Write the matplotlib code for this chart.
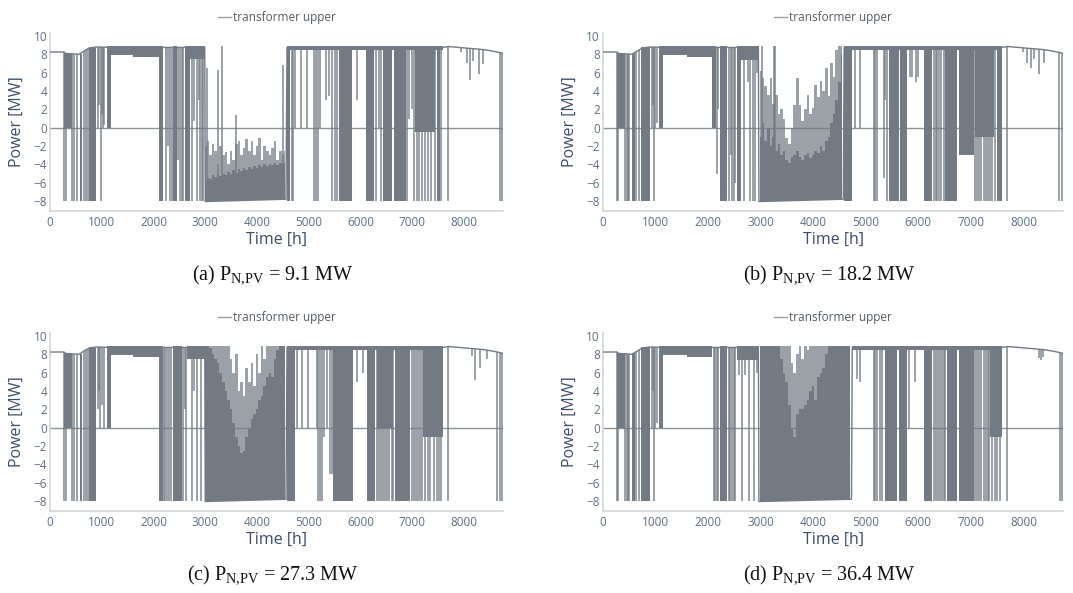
import numpy as np
import matplotlib.pyplot as plt
from matplotlib.lines import Line2D

plt.rcParams['font.family'] = ['Open Sans', 'DejaVu Sans']
plt.rcParams['mathtext.fontset'] = 'custom'
plt.rcParams['mathtext.rm'] = 'Liberation Serif'

TRACE = '#737a83'
TICK_COLOR = '#5f6f86'
TITLE_COLOR = '#3d4c68'

x_ticks = [0, 1000, 2000, 3000, 4000, 5000, 6000, 7000, 8000]
y_ticks = [-8, -6, -4, -2, 0, 2, 4, 6, 8, 10]
captions = ['(a) P$_{\\mathrm{N{,}PV}}$ = 9.1 MW', '(b) P$_{\\mathrm{N{,}PV}}$ = 18.2 MW',
            '(c) P$_{\\mathrm{N{,}PV}}$ = 27.3 MW', '(d) P$_{\\mathrm{N{,}PV}}$ = 36.4 MW']

# resting level of the transformer trace (hour, MW)
rest_a_h = [0, 270, 300, 560, 640, 700, 760, 900, 1160, 2990, 3000, 4560, 4580, 7600, 7700, 8000, 8400, 8600, 8760]
rest_a_v = [8.25, 8.25, 8.1, 8.0, 8.3, 8.5, 8.7, 8.8, 8.75, 8.75, -8.05, -7.8, 8.75, 8.75, 8.85, 8.7, 8.5, 8.3, 8.1]
rest_b_h = [0, 270, 300, 560, 640, 700, 760, 900, 1150, 2960, 2970, 4575, 4590, 7600, 7700, 8000, 8400, 8600, 8760]
rest_b_v = [8.25, 8.25, 8.1, 8.0, 8.3, 8.5, 8.7, 8.8, 8.75, 8.75, -8.05, -7.8, 8.75, 8.75, 8.85, 8.7, 8.5, 8.3, 8.1]
rest_c_h = rest_a_h
rest_c_v = rest_a_v
rest_d_h = [0, 270, 300, 560, 640, 700, 760, 900, 1150, 2960, 2970, 4730, 4745, 7600, 7700, 8000, 8400, 8600, 8760]
rest_d_v = [8.25, 8.25, 8.1, 8.0, 8.3, 8.5, 8.7, 8.8, 8.75, 8.75, -8.05, -7.8, 8.75, 8.75, 8.85, 8.7, 8.5, 8.3, 8.1]

# periods of dense switching: (start h, end h, low MW, high MW)
blocks_a = [(270, 420, 0.0, 8.1), (575, 615, -8.0, 8.0), (760, 885, -8.0, 8.7), (1110, 1170, 0.0, 8.9),
            (1170, 1600, 7.95, 8.9), (1600, 2100, 7.75, 8.9), (2100, 2190, -8.0, 8.9), (2380, 2445, -8.0, 8.9),
            (2600, 2700, -8.0, 8.9), (2700, 2995, 7.5, 8.9), (4573, 4640, -8.0, 8.9), (5580, 5830, -8.0, 8.9),
            (6115, 6270, -8.0, 8.9), (6430, 6615, -8.0, 8.9), (6650, 6870, -8.0, 8.9), (7060, 7440, -0.5, 8.9),
            (7470, 7530, -8.0, 8.9), (4640, 7600, 8.5, 8.95)]
blocks_b = [(270, 425, 0.0, 8.1), (560, 610, -8.0, 8.1), (720, 890, -8.0, 8.8), (1075, 1150, 0.0, 8.9),
            (1150, 1600, 7.95, 8.9), (1600, 2085, 7.75, 8.9), (2085, 2145, 0.0, 8.9), (2230, 2360, -8.0, 8.9),
            (2550, 2620, -8.0, 8.9), (2620, 2965, 7.4, 8.9), (4580, 4740, -8.0, 8.9), (5440, 5630, -8.0, 8.9),
            (5660, 5790, -8.0, 8.9), (6105, 6265, -8.0, 8.9), (6515, 6740, -8.0, 8.9), (6770, 7055, -3.0, 8.9),
            (7085, 7440, -1.0, 8.9), (7500, 7595, -8.0, 8.9), (4740, 7600, 8.5, 8.95)]
blocks_c = [(270, 420, 0.0, 8.1), (575, 615, -8.0, 8.0), (760, 885, -8.0, 8.7), (1110, 1170, 0.0, 8.9),
            (1170, 1600, 7.95, 8.9), (1600, 2100, 7.75, 8.9), (2100, 2180, -8.0, 8.9), (2385, 2545, -8.0, 8.9),
            (2640, 2995, 7.5, 8.9), (4573, 4735, -8.0, 8.9), (5475, 5860, -8.0, 8.9), (6120, 6280, -8.0, 8.9),
            (6313, 6635, 0.0, 8.9), (6667, 6957, -8.0, 8.9), (7214, 7600, -1.0, 8.9), (4735, 7600, 8.5, 8.95)]
blocks_d = [(270, 425, 0.0, 8.1), (560, 610, -8.0, 8.1), (720, 890, -8.0, 8.8), (1075, 1150, 0.0, 8.9),
            (1150, 1600, 7.95, 8.9), (1600, 2085, 7.7, 8.9), (2233, 2360, -8.0, 8.9), (2550, 2965, 7.4, 8.9),
            (5374, 5596, -8.0, 8.9), (5628, 5787, -8.0, 8.9), (6104, 6263, -8.0, 8.9), (6548, 6738, -8.0, 8.9),
            (6770, 7055, -8.0, 8.9), (7373, 7595, -1.0, 8.9), (4745, 7600, 8.5, 8.95)]

# single switching events: (hour, MW reached)
spikes_a = [(270, -8), (300, -8), (420, -8), (470, -8), (517, -8), (660, -8), (692, -8), (735, -8),
            (920, 0), (945, 2.5), (985, -8), (1005, 1.5), (1030, 0), (1050, 0.3),
            (2250, -8), (2280, -2), (2315, -8), (2350, -8), (2480, -3.5), (2510, -8), (2545, -8), (2575, -8),
            (2740, -8), (2780, 0.7), (2835, -8), (2870, 3.0), (2900, -8), (2940, -8), (2965, -8),
            (3030, 6.5), (3250, 6.3), (3320, 8.9), (3600, 1.4), (4510, 6.8),
            (4670, -8), (4700, -8), (4730, 0), (4845, 0), (4970, 0), (5110, -8), (5140, -8), (5170, -8),
            (5220, 0), (5330, 3.0), (5390, 3.5), (5455, -8), (5500, -8), (5550, -8), (5940, 3.0),
            (6300, -8), (6355, 0), (6400, -8), (6900, -8), (6940, 1.0), (6995, 2.0), (7030, -8),
            (7090, -8), (7130, -8), (7185, -8), (7245, -8), (7300, -8), (7370, -8), (7435, -8), (7560, -8),
            (7700, -8), (7950, 8.3), (8060, 7.0), (8120, 5.2), (8180, 7.3), (8280, 5.9), (8370, 6.9),
            (8690, -8), (8725, -8)]
spikes_b = [(270, -8), (295, -8), (425, -8), (468, -8), (490, -8), (505, -8), (641, -8), (685, -8),
            (930, 0), (955, 2.5), (970, -8), (1000, 0), (1030, 0.5),
            (2170, -5.0), (2200, 2.0), (2392, -8), (2430, -3.0), (2460, -8), (2487, -8), (2520, -6.0),
            (2680, -8), (2760, 5.0), (2800, -8), (2850, -8), (2900, -8), (2940, 6.0),
            (3020, 8.9), (3250, 8.9), (3280, 8.9),
            (4803, 0), (4900, 0), (5152, -8), (5185, -8), (5216, -8), (5342, -5.5), (5375, 3.0), (5406, -8),
            (5850, 5.5), (5880, 5.5), (5960, 5.0), (6000, 5.5), (6294, -8), (6330, -8), (6360, -8),
            (6400, -8), (6440, -8), (6485, -8), (7087, -8), (7120, -8), (7160, -8), (7200, -8), (7240, -8),
            (7290, -8), (7330, -8), (7370, -8), (7410, -8), (7450, -8), (7690, -8),
            (8000, 8.2), (8071, 7.0), (8134, 6.5), (8198, 7.5), (8293, 5.9), (8388, 7.0),
            (8680, -8), (8735, -8)]
spikes_c = [(270, -8), (300, -8), (420, -8), (470, -8), (517, -8), (660, -8), (692, -8), (735, -8),
            (920, 2.0), (945, 4.0), (975, 0), (1005, 2.5), (1040, 0),
            (2200, -8), (2230, -8), (2260, -8), (2300, -8), (2330, -8), (2577, -8), (2600, 2.0), (2620, -8),
            (2738, -8), (2790, 4.0), (2834, -8), (2918, -8),
            (4766, 0), (4863, 0), (4992, 0), (5153, 0), (5185, -8), (5215, -8), (5250, -8), (5300, -1.0),
            (5360, 0), (5410, -5.0), (5445, -5.0), (5926, 5.0), (6055, 6.0), (6313, -8), (6350, -8),
            (6390, -8), (6430, -8), (6470, -8), (6510, -8), (6550, -8), (6600, -8), (6635, -8),
            (6990, -8), (7030, -8), (7070, -8), (7110, -8), (7150, -8), (7190, -8), (7250, -8), (7300, -8),
            (7350, -8), (7420, -8), (7470, -8), (7520, -8), (7560, -8), (7697, -8),
            (8150, 7.8), (8213, 5.2), (8309, 6.5), (8438, 7.5),
            (8631, -8), (8695, -8), (8727, -8)]
spikes_d = [(270, -8), (295, -8), (425, -8), (468, -8), (490, -8), (505, -8), (641, -8), (685, -8),
            (930, 0), (955, 4.0), (970, -8), (1000, 0), (1030, 0.5),
            (2107, -8), (2140, -8), (2170, -8), (2200, -8), (2392, -8), (2420, -8), (2455, -8), (2487, -8),
            (2519, -8), (2600, 5.7), (2650, -8), (2700, 5.7), (2773, -8), (2868, -8), (2930, 6.0),
            (4832, 5.3), (4898, 5.0), (5152, -8), (5185, -8), (5216, -8), (5279, -8), (5311, -8),
            (5818, 0), (5945, 5.0), (6294, -8), (6330, -8), (6370, -8), (6410, -8), (6450, -8), (6485, -8),
            (6516, -8), (7087, -8), (7125, -8), (7160, -8), (7200, -8), (7240, -8), (7280, -8), (7320, -8),
            (7341, -8), (7400, -8), (7450, -8), (7500, -8), (7550, -8), (7690, -8),
            (8290, 7.6), (8325, 7.4), (8370, 7.7),
            (8700, -8), (8740, -8)]

# spring/summer stretch where the trace oscillates daily
dense_a_h = [3000, 3050, 3100, 3150, 3200, 3250, 3300, 3350, 3400, 3450, 3500, 3550, 3600, 3650, 3700, 3750,
             3800, 3850, 3900, 3950, 4000, 4050, 4100, 4150, 4200, 4250, 4300, 4350, 4400, 4450, 4500, 4550]
dense_a_core = [-5.8, -5.5, -5.6, -5.2, -5.4, -5.0, -5.3, -5.0, -5.2, -4.8, -5.0, -4.6, -4.9, -4.5, -4.7, -4.4,
                -4.6, -4.3, -4.5, -4.2, -4.4, -4.1, -4.3, -4.0, -4.2, -4.0, -4.1, -3.9, -4.1, -3.8, -4.0, -3.8]
dense_a_top = [-2.0, -1.5, -3.0, -1.8, -2.5, -4.0, -2.0, -3.0, -2.6, -4.0, -2.5, -3.5, -1.8, -1.5, -3.0, -2.2,
               -1.2, -2.5, -1.5, -3.0, -2.0, -1.1, -3.5, -2.0, -2.5, -3.0, -2.2, -1.5, -3.5, -2.5, -3.0, -2.5]
dense_b_h = dense_a_h
dense_b_core = [-1.0, 0.5, -1.5, 0.0, -2.0, -1.0, -2.5, -1.8, -3.0, -2.5, -3.5, -3.8, -3.2, -3.0, -2.5, -3.2,
                -3.5, -3.0, -2.8, -3.3, -3.0, -2.5, -2.8, -2.0, -2.5, -1.5, -1.0, 0.5, 1.5, 3.0, 5.0, 8.0]
dense_b_top = [6.2, 5.4, 4.5, 3.6, 5.4, 2.6, 3.6, 1.5, 2.0, 1.0, -1.1, -1.8, 0.0, 2.5, 5.4, 2.5,
               0.7, 2.0, 3.6, 1.5, 2.2, 4.7, 3.3, 5.1, 4.0, 6.5, 3.5, 7.1, 5.5, 8.5, 8.9, 8.9]
dense_c_h = dense_a_h
dense_c_core = [8.9, 8.9, 8.7, 8.0, 7.5, 7.0, 6.0, 5.0, 4.0, 3.0, 2.0, 0.5, -1.0, -2.0, -2.8, -2.5,
                -1.0, 0.0, 1.0, 1.5, 2.0, 3.0, 3.5, 4.5, 5.5, 6.0, 5.5, 7.5, 8.5, 8.9, 8.9, 8.9]
dense_c_top = [8.9, 8.9, 8.9, 8.9, 8.9, 8.9, 8.9, 8.9, 8.9, 8.9, 7.5, 6.0, 8.0, 4.0, 5.0, 3.5,
               6.5, 5.0, 7.0, 4.5, 8.0, 6.0, 8.9, 7.5, 8.9, 8.9, 8.9, 8.9, 8.9, 8.9, 8.9, 8.9]
dense_d_h = dense_a_h + [4600, 4650, 4700]
dense_d_core = [8.9, 8.9, 8.9, 8.9, 8.9, 8.9, 8.9, 8.9, 7.5, 6.0, 5.0, 2.5, 0.0, -1.0, 1.5, 2.0,
                2.0, 2.5, 3.0, 4.0, 4.5, 3.0, 5.5, 6.0, 6.5, 8.0, 8.9, 8.9, 8.9, 8.9, 8.9, 8.9, 8.9, 8.9, 8.9]
dense_d_top = [8.9, 8.9, 8.9, 8.9, 8.9, 8.9, 8.9, 8.9, 8.9, 8.9, 8.9, 8.9, 7.0, 6.0, 8.0, 8.9,
               7.5, 8.9, 8.5, 8.9, 8.9, 8.9, 8.9, 8.9, 8.9, 8.9, 8.9, 8.9, 8.9, 8.9, 8.9, 8.9, 8.9, 8.9, 8.9]


def draw_panel(ax, rest_h, rest_v, blocks, spikes, dense_h, dense_core, dense_top):
    ax.axhline(0, color='#8d9298', lw=1.0, zorder=1)
    for h0, h1, lo, hi in blocks:
        ax.fill_between([h0, h1], lo, hi, color=TRACE, lw=0, zorder=2)
    low = np.interp(dense_h, rest_h, rest_v)
    ax.fill_between(dense_h, low, dense_top, step='mid', color=TRACE, alpha=0.7, lw=0, zorder=2)
    ax.fill_between(dense_h, low, dense_core, step='mid', color=TRACE, lw=0, zorder=3)
    sh = [s[0] for s in spikes]
    sv = [s[1] for s in spikes]
    ax.vlines(sh, np.interp(sh, rest_h, rest_v), sv, color=TRACE, lw=1.1, alpha=0.9, zorder=3)
    ax.plot(rest_h, rest_v, color=TRACE, lw=1.0, zorder=4)

    ax.set_xlim(0, 8760)
    ax.set_ylim(-9.05, 10.3)
    ax.set_xticks(x_ticks)
    ax.set_yticks(y_ticks)
    ax.set_yticklabels([str(t).replace('-', '\u2212') for t in y_ticks])
    ax.tick_params(length=0, labelsize=8.5, labelcolor=TICK_COLOR)
    ax.tick_params(axis='x', pad=4)
    ax.tick_params(axis='y', pad=2)
    for side in ('top', 'right'):
        ax.spines[side].set_visible(False)
    for side in ('left', 'bottom'):
        ax.spines[side].set_color('#d2d4d6')
        ax.spines[side].set_linewidth(1.2)
    ax.set_xlabel('Time [h]', fontsize=11.5, color=TITLE_COLOR)
    ax.set_ylabel('Power [MW]', fontsize=11.5, color=TITLE_COLOR)
    ax.xaxis.set_label_coords(0.5, -0.12)
    h = Line2D([], [], color='#9a9ea3', lw=1.0)
    ax.legend([h], ['transformer upper'], loc='center', bbox_to_anchor=(0.5, 1.09), frameon=False,
              fontsize=8.5, labelcolor='#555b63', handlelength=1.1, handletextpad=0.2,
              borderpad=0, borderaxespad=0)


fig = plt.figure(figsize=(10.73, 5.93), dpi=100)
rects = [[0.0466, 0.6447, 0.4225, 0.2993], [0.5617, 0.6447, 0.4294, 0.2993],
         [0.0466, 0.1388, 0.4225, 0.2993], [0.5617, 0.1388, 0.4294, 0.2993]]
panels = [(rest_a_h, rest_a_v, blocks_a, spikes_a, dense_a_h, dense_a_core, dense_a_top),
          (rest_b_h, rest_b_v, blocks_b, spikes_b, dense_b_h, dense_b_core, dense_b_top),
          (rest_c_h, rest_c_v, blocks_c, spikes_c, dense_c_h, dense_c_core, dense_c_top),
          (rest_d_h, rest_d_v, blocks_d, spikes_d, dense_d_h, dense_d_core, dense_d_top)]
for rect, data in zip(rects, panels):
    ax = fig.add_axes(rect)
    draw_panel(ax, *data)
    ax.yaxis.set_label_coords(-25 / (rect[2] * 1073), 0.5)

caption_pos = [(0.2544, 0.5363), (0.7726, 0.5363), (0.2544, 0.0304), (0.7726, 0.0304)]
for (cx, cy), text in zip(caption_pos, captions):
    fig.text(cx, cy, text, ha='center', va='center', fontsize=14.5, family='Liberation Serif', color='#111111')

fig.savefig('out.png', dpi=100)
